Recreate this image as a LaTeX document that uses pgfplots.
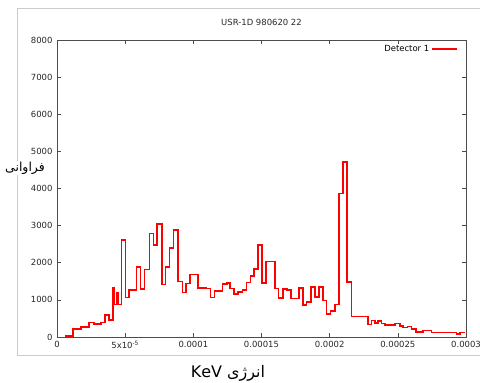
\documentclass[border=0pt]{standalone}
\usepackage{fontspec}
\setmainfont{DejaVu Sans}
\newfontfamily\arabicfont[Script=Arabic]{DejaVu Sans}
\usepackage{pgfplots}
\pgfplotsset{compat=1.18}
\usetikzlibrary{calc}
\TeXXeTstate=1
\definecolor{plotred}{RGB}{255,0,0}
\begin{document}
\begin{tikzpicture}
\begin{axis}[name=ax, scale only axis, width=409bp, height=297bp,
 xmin=0, xmax=3e-4, ymin=0, ymax=8000,
 xtick={0,5e-5,1e-4,1.5e-4,2e-4,2.5e-4,3e-4},
 xticklabels={0,5x10\textsuperscript{-5},0.0001,0.00015,0.0002,0.00025,0.0003},
 ytick={0,1000,2000,3000,4000,5000,6000,7000,8000},
 yticklabels={0,1000,2000,3000,4000,5000,6000,7000,8000},
 scaled x ticks=false, scaled y ticks=false,
 tick align=inside, major tick length=4bp,
 axis line style={black!70, line width=0.8pt},
 every tick/.style={black!70, line width=0.6pt},
 tick label style={font=\fontsize{8.5}{10}\selectfont, text=black!85},
 xticklabel style={yshift=-1bp},
 yticklabel style={xshift=-1bp},
 legend style={at={(1,1)}, anchor=north east, xshift=-7bp, yshift=-2bp, draw=none, fill=none, font=\fontsize{8.5}{10}\selectfont, inner sep=1pt},
 legend cell align=right,
 legend plot pos=right,
 legend image code/.code={\draw[#1] (0cm,0cm) -- (0.88cm,0cm);},
]
\addplot[draw=plotred, color=plotred, line width=1.6pt, line join=miter, const plot mark left] coordinates {
(5.69e-6,30) (11.78e-6,220) (17.43e-6,265) (23.67e-6,390) (27.19e-6,345)
(32.48e-6,385) (35.05e-6,585) (38.20e-6,465) (41.14e-6,1330) (41.87e-6,870)
(43.85e-6,1200) (44.59e-6,870) (47.23e-6,2610) (50.24e-6,1060) (52.66e-6,1270)
(58.31e-6,1887) (61.25e-6,1285) (64.18e-6,1815) (67.85e-6,2790) (70.79e-6,2480)
(73.43e-6,3040) (76.88e-6,1410) (79.60e-6,1880) (82.53e-6,2390) (85.47e-6,2880)
(88.62e-6,1500) (92.07e-6,1200) (94.50e-6,1440) (97.43e-6,1680) (103.52e-6,1325)
(109.17e-6,1310) (112.62e-6,1060) (115.41e-6,1240) (121.28e-6,1420) (124.59e-6,1455)
(127.01e-6,1303) (129.94e-6,1160) (132.88e-6,1213) (135.96e-6,1259) (139.05e-6,1470)
(141.83e-6,1636) (144.62e-6,1835) (147.34e-6,2470) (150.50e-6,1450) (153.21e-6,2030)
(160.04e-6,1310) (162.53e-6,1051) (165.69e-6,1290) (168.84e-6,1260) (171.78e-6,1035)
(177.65e-6,1320) (180.37e-6,854) (183.08e-6,943) (186.46e-6,1348) (189.39e-6,1078)
(192.11e-6,1348) (195.05e-6,980) (197.76e-6,620) (200.70e-6,701) (203.85e-6,873)
(206.79e-6,3870) (209.72e-6,4720) (212.66e-6,1483) (215.96e-6,550) (227.93e-6,338)
(230.64e-6,440) (233.21e-6,377) (235.63e-6,423) (238.13e-6,361) (240.55e-6,315)
(247.89e-6,360) (251.56e-6,300) (253.98e-6,253) (257.21e-6,280) (260.15e-6,210)
(263.30e-6,130) (268.66e-6,180) (274.83e-6,118) (293.17e-6,80) (295.60e-6,125)
(299.27e-6,125)
};
\legend{Detector 1}
\end{axis}
\draw[black!20, line width=0.8pt] ($(ax.south west)+(-40bp,-18bp)$) -- ($(ax.north west)+(-40bp,32bp)$) -- ($(ax.north east)+(60bp,32bp)$);
\draw[black!20, line width=0.8pt] ($(ax.south west)+(-40bp,-18bp)$) -- ($(ax.south east)+(60bp,-18bp)$);
\node[text=black!85] at ($(ax.north)+(0,18bp)$) {\fontsize{8.5}{10}\selectfont USR-1D 980620 22};
\node[fill=white, inner sep=1pt] at ($(ax.south west)+(-32bp,169bp)$) {\fontsize{12.5}{14}\selectfont\arabicfont\beginR فراوانی\endR};
\node at ($(ax.south west)+(171bp,-36bp)$) {\fontsize{16}{18}\selectfont\arabicfont\beginR انرژی \beginL KeV\endL\endR};
\pgfresetboundingbox
\path ($(ax.south west)+(-57bp,-46bp)$) rectangle ($(ax.north east)+(14bp,40bp)$);
\end{tikzpicture}
\end{document}
